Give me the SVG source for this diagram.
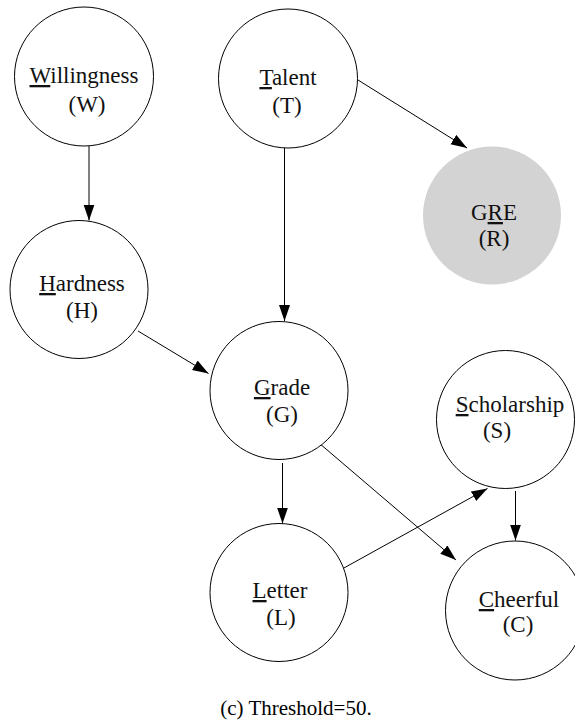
<svg xmlns="http://www.w3.org/2000/svg" width="575" height="721" viewBox="0 0 575 721">
<style>
.n{fill:#fff;stroke:#000;stroke-width:1}
.obs{fill:#d3d3d3;stroke:none}
.t{font-family:"Liberation Serif","Times New Roman",serif;font-size:23px;fill:#111;text-anchor:middle}
.u{text-decoration:underline}
.e{stroke:#000;stroke-width:1;fill:none;marker-end:url(#ah)}
.cap{font-family:"Liberation Serif","Times New Roman",serif;font-size:21px;fill:#000;text-anchor:middle}
</style>
<defs>
<marker id="ah" markerUnits="userSpaceOnUse" markerWidth="17" markerHeight="12" refX="16" refY="5.5" orient="auto">
<path d="M0,0 L16,5.5 L0,11 Z" fill="#000"/>
</marker>
</defs>
<g id="edges">
<line class="e" x1="89" y1="146" x2="89" y2="220.5"/>
<line class="e" x1="284.5" y1="147.5" x2="284.5" y2="321"/>
<line class="e" x1="358" y1="80" x2="467" y2="148"/>
<line class="e" x1="138" y1="331" x2="208.5" y2="373.5"/>
<line class="e" x1="282.5" y1="463" x2="282.5" y2="523.5"/>
<line class="e" x1="319" y1="443" x2="456" y2="560"/>
<line class="e" x1="343" y1="568.5" x2="487.5" y2="488.5"/>
<line class="e" x1="515.5" y1="491" x2="515.5" y2="540.5"/>
</g>
<g id="W">
<circle class="n" cx="84" cy="76.5" r="69.5"/>
<text class="t" x="84" y="83"><tspan class="u">W</tspan>illingness</text>
<text class="t" x="87" y="112">(W)</text>
</g>
<g id="T">
<circle class="n" cx="288" cy="78.5" r="69.5"/>
<text class="t" x="288" y="85"><tspan class="u">T</tspan>alent</text>
<text class="t" x="287" y="113">(T)</text>
</g>
<g id="R">
<circle class="obs" cx="492" cy="215.5" r="69"/>
<text class="t" x="494" y="220">G<tspan class="u">R</tspan>E</text>
<text class="t" x="494" y="246">(R)</text>
</g>
<g id="H">
<circle class="n" cx="79" cy="289.5" r="69"/>
<text class="t" x="82" y="291"><tspan class="u">H</tspan>ardness</text>
<text class="t" x="82" y="318">(H)</text>
</g>
<g id="G">
<circle class="n" cx="279" cy="390.5" r="69"/>
<text class="t" x="282" y="395"><tspan class="u">G</tspan>rade</text>
<text class="t" x="282" y="422">(G)</text>
</g>
<g id="S">
<circle class="n" cx="505.5" cy="419.5" r="69"/>
<text class="t" x="510" y="412"><tspan class="u">S</tspan>cholarship</text>
<text class="t" x="497" y="438">(S)</text>
</g>
<g id="L">
<circle class="n" cx="279" cy="592.5" r="69"/>
<text class="t" x="280" y="598"><tspan class="u">L</tspan>etter</text>
<text class="t" x="281" y="625">(L)</text>
</g>
<g id="C">
<circle class="n" cx="515" cy="610.5" r="69.5"/>
<text class="t" x="519" y="607"><tspan class="u">C</tspan>heerful</text>
<text class="t" x="518" y="632">(C)</text>
</g>
<text class="cap" x="296" y="715">(c) Threshold=50.</text>
</svg>
